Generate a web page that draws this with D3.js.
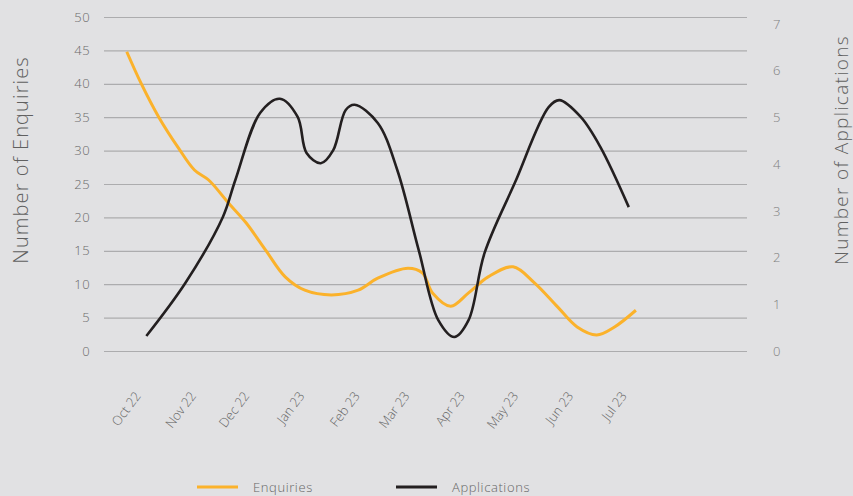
<!DOCTYPE html>
<html>
<head>
<meta charset="utf-8">
<script src="https://cdn.jsdelivr.net/npm/d3@7"></script>
<style>
  html, body { margin: 0; padding: 0; background: #e1e1e3; }
  svg { display: block; }
  text { font-family: "Open Sans", "Noto Sans", sans-serif; font-weight: 300; }
</style>
</head>
<body>
<svg id="chart" width="853" height="496"></svg>
<script>
// Monthly axis labels
const months = ["2022-10-01","2022-11-01","2022-12-01","2023-01-01","2023-02-01","2023-03-01",
                "2023-04-01","2023-05-01","2023-06-01","2023-07-01"];

// Enquiries (left axis)
const enquiryDates = ["2022-09-23","2022-10-01","2022-10-11","2022-10-22","2022-10-31","2022-11-08",
  "2022-11-19","2022-11-29","2022-12-10","2022-12-21","2023-01-01","2023-01-16","2023-01-31",
  "2023-02-11","2023-02-28","2023-03-08","2023-03-14","2023-03-24","2023-04-03","2023-04-14",
  "2023-04-28","2023-05-10","2023-05-23","2023-06-03","2023-06-14","2023-06-24","2023-07-06"];
const enquiryValues = [44.8,40.1,35.0,30.4,27.1,25.6,22.2,19.2,15.1,11.1,9.1,8.4,9.1,
  10.9,12.4,11.7,8.6,6.7,8.7,11.1,12.6,10.2,6.6,3.6,2.4,3.6,6.1];

// Applications (right axis)
const applicationDates = ["2022-10-04","2022-10-26","2022-11-16","2022-11-23","2022-12-07",
  "2022-12-18","2022-12-28","2023-01-02","2023-01-10","2023-01-17","2023-01-24","2023-01-29",
  "2023-02-11","2023-02-22","2023-03-06","2023-03-17","2023-03-26","2023-04-03","2023-04-12",
  "2023-04-29","2023-05-18","2023-05-24","2023-06-05","2023-06-16","2023-07-02"];
const applicationValues = [0.32,1.46,2.87,3.66,5.10,5.40,5.01,4.24,4.02,4.30,5.16,5.27,
  4.88,3.87,2.16,0.66,0.30,0.66,2.10,3.60,5.22,5.37,5.01,4.37,3.08];

const leftTicks = [0,5,10,15,20,25,30,35,40,45,50];
const rightTicks = [0,1,2,3,4,5,6,7];

const parse = d3.utcParse("%Y-%m-%d");
const enquiries = enquiryDates.map((d, i) => ({ date: parse(d), value: enquiryValues[i] }));
const applications = applicationDates.map((d, i) => ({ date: parse(d), value: applicationValues[i] }));
const monthDates = months.map(parse);

const svg = d3.select("#chart");
const plotLeft = 104, plotRight = 747, plotTop = 17, plotBottom = 351;

const x = d3.scaleUtc().domain([monthDates[0], monthDates[monthDates.length - 1]]).range([141, 627]);
const yLeft = d3.scaleLinear().domain([0, 50]).range([plotBottom, plotTop]);
const yRight = d3.scaleLinear().domain([0, 7]).range([plotBottom, 24]);

// Left axis with horizontal gridlines
const gLeft = svg.append("g")
  .attr("transform", `translate(${plotLeft},0)`)
  .call(d3.axisLeft(yLeft).tickValues(leftTicks).tickSize(-(plotRight - plotLeft)).tickPadding(14));
gLeft.select(".domain").remove();
gLeft.selectAll(".tick line").attr("stroke", "#acacae").attr("stroke-width", 1.2);
gLeft.selectAll(".tick text").attr("fill", "#6a6a6a").style("font-size", "13px")
  .style("font-family", "'Open Sans', sans-serif").style("letter-spacing", "0.4px");

// Right axis
const gRight = svg.append("g")
  .attr("transform", `translate(${plotRight},0)`)
  .call(d3.axisRight(yRight).tickValues(rightTicks).tickSize(0).tickPadding(26).tickFormat(d3.format("d")));
gRight.select(".domain").remove();
gRight.selectAll(".tick text").attr("fill", "#808080").style("font-size", "13px")
  .style("font-family", "'Open Sans', sans-serif");

// Bottom axis with rotated month labels
const gBottom = svg.append("g")
  .attr("transform", `translate(0,${plotBottom})`)
  .call(d3.axisBottom(x).tickValues(monthDates).tickSize(0).tickFormat(d3.utcFormat("%b %y")));
gBottom.select(".domain").remove();
gBottom.selectAll(".tick text")
  .attr("y", 0).attr("dy", 0)
  .attr("transform", "translate(0,45) rotate(-53)")
  .style("text-anchor", "end")
  .attr("fill", "#666")
  .style("font-size", "13px")
  .style("font-family", "'Open Sans', sans-serif");

// Series lines
const enquiryLine = d3.line()
  .x(d => x(d.date)).y(d => yLeft(d.value))
  .curve(d3.curveCatmullRom.alpha(0.5));
const applicationLine = d3.line()
  .x(d => x(d.date)).y(d => yRight(d.value))
  .curve(d3.curveCatmullRom.alpha(0.5));

svg.append("path").datum(enquiries)
  .attr("d", enquiryLine)
  .attr("fill", "none").attr("stroke", "#fbb22b").attr("stroke-width", 3);

svg.append("path").datum(applications)
  .attr("d", applicationLine)
  .attr("fill", "none").attr("stroke", "#231f20").attr("stroke-width", 2.6);

// Axis titles
svg.append("text")
  .attr("transform", "translate(28,160) rotate(-90)")
  .attr("text-anchor", "middle")
  .attr("fill", "#606060")
  .style("font-size", "20px")
  .style("letter-spacing", "1.1px")
  .text("Number of Enquiries");

svg.append("text")
  .attr("transform", "translate(848,150) rotate(-90)")
  .attr("text-anchor", "middle")
  .attr("fill", "#606060")
  .style("font-size", "19px")
  .style("letter-spacing", "1.3px")
  .text("Number of Applications");

// Legend
const legendItems = [
  { label: "Enquiries", color: "#fbb22b", x: 197 },
  { label: "Applications", color: "#231f20", x: 396 }
];
const legend = svg.append("g");
legendItems.forEach(item => {
  legend.append("line")
    .attr("x1", item.x).attr("x2", item.x + 41)
    .attr("y1", 487).attr("y2", 487)
    .attr("stroke", item.color).attr("stroke-width", 3);
  legend.append("text")
    .attr("x", item.x + 56).attr("y", 492)
    .attr("fill", "#666")
    .style("font-size", "13px")
    .style("letter-spacing", "0.6px")
    .text(item.label);
});
</script>
</body>
</html>
